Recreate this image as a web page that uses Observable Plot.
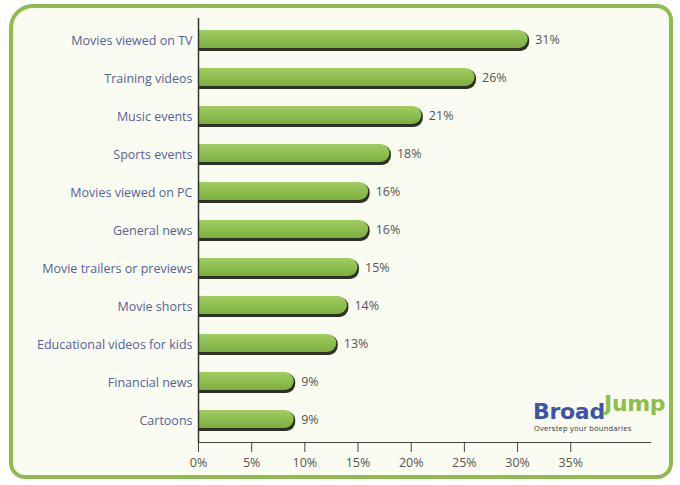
<!DOCTYPE html>
<html>
<head>
<meta charset="utf-8">
<script src="https://cdn.jsdelivr.net/npm/d3@7"></script>
<script src="https://cdn.jsdelivr.net/npm/@observablehq/plot@0.6"></script>
<style>
  html, body { margin: 0; padding: 0; background: #ffffff; }
  #wrap { position: relative; width: 680px; height: 485px; overflow: hidden; }
  #frame { position: absolute; left: 9px; top: 4px; width: 656px; height: 467px;
    border: 4px solid #8dbd4f; border-radius: 24px 16px 16px 16px; background: #fbfcf1; }
  #chart { position: absolute; left: 0; top: 0; }
  .logo { position: absolute; font-family: "DejaVu Sans", sans-serif; font-weight: bold; font-size: 22px; line-height: 22px; letter-spacing: -0.3px; white-space: nowrap; }
  #broad { left: 533px; top: 401px; color: #3c55a6; }
  #jump { left: 604px; top: 393px; color: #8cbf4a; }
  #tag { position: absolute; left: 534px; top: 424px; font-family: "Open Sans", sans-serif; font-size: 7.5px; line-height: 9px; color: #333; letter-spacing: 0.25px; white-space: nowrap; }
</style>
</head>
<body>
<svg width="0" height="0" style="position:absolute">
  <defs>
    <linearGradient id="g" x1="0" y1="0" x2="0" y2="1">
      <stop offset="0" stop-color="#a2cc62"/>
      <stop offset="0.5" stop-color="#8fbf50"/>
      <stop offset="1" stop-color="#7eae40"/>
    </linearGradient>
  </defs>
</svg>
<div id="wrap">
  <div id="frame"></div>
  <div id="chart"></div>
  <div class="logo" id="broad">Broad</div>
  <div class="logo" id="jump">Jump</div>
  <div id="tag">Overstep your boundaries</div>
</div>
<script>
const categories = ["Movies viewed on TV","Training videos","Music events","Sports events","Movies viewed on PC","General news","Movie trailers or previews","Movie shorts","Educational videos for kids","Financial news","Cartoons"];
const values = [31,26,21,18,16,16,15,14,13,9,9];
const xTicks = [0,5,10,15,20,25,30,35];

const data = categories.map((c, i) => ({category: c, value: values[i]}));

const chart = Plot.plot({
  width: 680,
  height: 485,
  marginLeft: 198,
  marginRight: 30,
  marginTop: 18,
  marginBottom: 43,
  style: {background: "transparent", fontFamily: "'Open Sans', sans-serif"},
  x: {domain: [0, 42.5]},
  y: {domain: categories, paddingInner: 0.48, paddingOuter: 0.24},
  marks: [
    Plot.barX(data, {y: "category", x: "value", fill: "#2e3226", rx: 9, dx: 1.5, dy: 1}),
    Plot.barX(data, {y: "category", x1: 0, x2: d => d.value / 2, fill: "#2e3226", dy: 1}),
    Plot.barX(data, {y: "category", x: "value", fill: "url(#g)", rx: 9, insetBottom: 2}),
    Plot.barX(data, {y: "category", x1: 0, x2: d => d.value / 2, fill: "url(#g)", insetBottom: 2}),
    Plot.text(data, {y: "category", x: "value", text: d => d.value + "%", textAnchor: "start", dx: 7, dy: -1, fill: "#555", fontSize: 12.5}),
    Plot.ruleX([0], {stroke: "#333", strokeWidth: 1.5}),
    Plot.frame({anchor: "bottom", stroke: "#444", strokeWidth: 1.2}),
    Plot.axisY({anchor: "left", tickSize: 0, tickPadding: 6, fontSize: 12.5, color: "#56609c", label: null}),
    Plot.axisX(xTicks, {anchor: "bottom", tickSize: 10, tickPadding: 6, tickFormat: d => d + "%", fontSize: 12.5, color: "#555", stroke: "#444", label: null})
  ]
});
document.getElementById("chart").appendChild(chart);
</script>
</body>
</html>
